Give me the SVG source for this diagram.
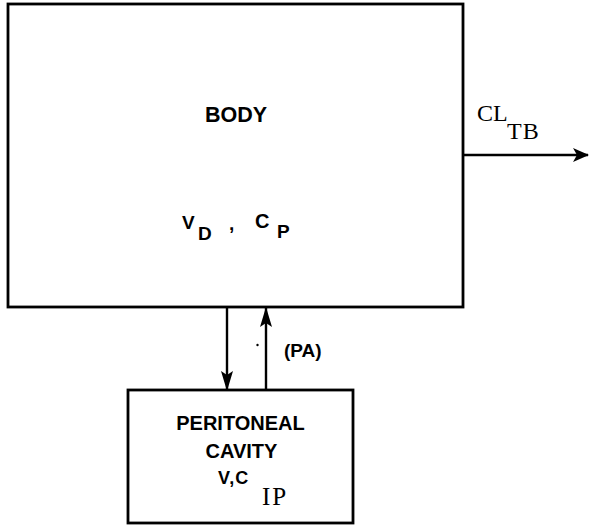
<svg xmlns="http://www.w3.org/2000/svg" width="589" height="525" viewBox="0 0 589 525">
<style>
.box{fill:#fff;stroke:#000;stroke-width:2.8}
.ln{stroke:#000;stroke-width:2.4;fill:none}
.t{font-family:"Liberation Sans",Arial,sans-serif;font-weight:bold;fill:#000}
.s{font-family:"Liberation Serif","Times New Roman",serif;fill:#000}
</style>
<defs>
<marker id="av" viewBox="0 0 20 12" refX="19" refY="6" markerWidth="20" markerHeight="12" orient="auto" markerUnits="userSpaceOnUse">
<path d="M0,0 L20,6 L0,12 L4,6 Z" fill="#000"/>
</marker>
<marker id="ah" viewBox="0 0 16 14" refX="15" refY="7" markerWidth="16" markerHeight="14" orient="auto" markerUnits="userSpaceOnUse">
<path d="M0,0 L16,7 L0,14 L4,7 Z" fill="#000"/>
</marker>
</defs>
<g id="body">
<rect class="box" x="8" y="4" width="455" height="303"/>
<text class="t" x="236" y="121.5" font-size="21.5" text-anchor="middle">BODY</text>
<text class="t" x="182" y="229" font-size="19">V</text>
<text class="t" x="198" y="240" font-size="19">D</text>
<text class="t" x="229" y="230" font-size="19">,</text>
<text class="t" x="255" y="228" font-size="20">C</text>
<text class="t" x="277" y="238" font-size="19">P</text>
</g>
<g id="peritoneal">
<rect class="box" x="128" y="390" width="225" height="133"/>
<text class="t" x="240.5" y="430" font-size="20" text-anchor="middle">PERITONEAL</text>
<text class="t" x="241.5" y="458" font-size="20" text-anchor="middle">CAVITY</text>
<text class="t" x="218" y="484" font-size="18" letter-spacing="1">V,C</text>
<text class="s" x="262" y="505" font-size="25" letter-spacing="2">IP</text>
</g>
<g id="connectors">
<line class="ln" x1="463" y1="155" x2="588" y2="155" marker-end="url(#ah)"/>
<line class="ln" x1="227" y1="307" x2="227" y2="390" marker-end="url(#av)"/>
<line class="ln" x1="266" y1="390" x2="266" y2="308" marker-end="url(#av)"/>
<text class="t" x="284" y="357" font-size="19">(PA)</text>
<circle cx="257.5" cy="345" r="1.2" fill="#000"/>
<text class="s" x="477" y="121" font-size="24">CL</text>
<text class="s" x="507" y="139" font-size="24" letter-spacing="1">TB</text>
</g>
</svg>
